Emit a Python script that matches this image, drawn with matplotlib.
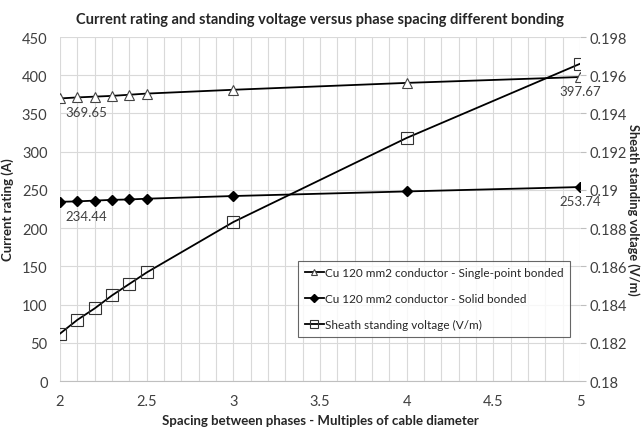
import matplotlib
matplotlib.use("Agg")
import matplotlib.pyplot as plt
from matplotlib.ticker import MultipleLocator, FormatStrFormatter

plt.rcParams['font.family'] = ['Lato', 'DejaVu Sans']

spacing = [2, 2.1, 2.2, 2.3, 2.4, 2.5, 3, 4, 5]
single_point = [369.65, 371, 372, 373, 374.5, 376, 381, 390, 397.67]
solid = [234.44, 235, 236, 237, 237.5, 238.5, 242, 248, 253.74]
sheath_v = [0.18248, 0.1832, 0.1838, 0.18448, 0.18508, 0.18568, 0.18832, 0.19272, 0.1966]
right_ticks = [0.18, 0.182, 0.184, 0.186, 0.188, 0.19, 0.192, 0.194, 0.196, 0.198]
right_labels = ['0.18', '0.182', '0.184', '0.186', '0.188', '0.19', '0.192', '0.194', '0.196', '0.198']

fig = plt.figure(figsize=(6.42, 4.35), dpi=100)
ax = fig.add_axes([0.0935, 0.1218, 0.81, 0.7908])
ax2 = ax.twinx()

l1, = ax.plot(spacing, single_point, color='black', lw=1.3, marker='^', ms=7,
              mfc='white', mec='#444444', mew=0.8,
              label='Cu 120 mm2 conductor - Single-point bonded')
l2, = ax.plot(spacing, solid, color='black', lw=1.3, marker='D', ms=5.5,
              mfc='black', mec='black', label='Cu 120 mm2 conductor - Solid bonded')
l3, = ax2.plot(spacing, sheath_v, color='black', lw=1.3, marker='s', ms=8,
               mfc='none', mec='#333333', mew=0.8, label='Sheath standing voltage (V/m)')

ax.set_xlim(2, 5)
ax.set_ylim(0, 450)
ax2.set_ylim(0.18, 0.198)
ax.xaxis.set_major_locator(MultipleLocator(0.5))
ax.xaxis.set_minor_locator(MultipleLocator(0.1))
ax.xaxis.set_major_formatter(FormatStrFormatter('%g'))
ax.yaxis.set_major_locator(MultipleLocator(50))
ax2.set_yticks(right_ticks)
ax2.set_yticklabels(right_labels)

ax.grid(True, which='both', axis='x', color='#d9d9d9', lw=0.8)
ax.grid(True, which='major', axis='y', color='#d9d9d9', lw=0.8)
ax.set_axisbelow(True)
for a in (ax, ax2):
    for s in a.spines.values():
        s.set_visible(False)
ax.spines['bottom'].set_visible(True)
ax.spines['bottom'].set_color('#bfbfbf')
ax.tick_params(axis='both', which='both', length=0, labelsize=10.5, colors='#404040', pad=9)
ax2.tick_params(axis='y', length=4, color='#bfbfbf', labelsize=10.5, labelcolor='#404040', pad=3)

ax.set_title('Current rating and standing voltage versus phase spacing different bonding',
             fontsize=10.5, fontweight='bold', color='#262626', pad=10)
ax.set_xlabel('Spacing between phases - Multiples of cable diameter', fontsize=9.5,
              fontweight='bold', color='#262626', labelpad=5)
ax.set_ylabel('Current rating (A)', fontsize=9.5, fontweight='bold', color='#262626', labelpad=6)
ax2.set_ylabel('Sheath standing voltage (V/m)', fontsize=9.2, fontweight='bold',
               color='#262626', rotation=270, va='center', ha='center')
ax2.yaxis.set_label_coords(1.103, 0.5)

for x, y in [(spacing[0], single_point[0]), (spacing[0], solid[0]),
             (spacing[-1], single_point[-1]), (spacing[-1], solid[-1])]:
    ax.annotate(f'{y:.2f}', (x, y), xytext=(4 if x == 2 else 0, -10), textcoords='offset points',
                ha='left' if x == 2 else 'center', fontsize=9.5, color='#404040',
                va='center')

leg = ax.legend(handles=[l1, l2, l3], loc='upper left', bbox_to_anchor=(0.458, 0.349),
                borderaxespad=0, fontsize=8.5, frameon=True, fancybox=False,
                edgecolor='#404040', handlelength=1.6, handletextpad=0.1,
                labelspacing=1.25, borderpad=0.55, markerscale=0.7)
leg.get_frame().set_linewidth(0.8)
for t in leg.get_texts():
    t.set_color('#262626')

fig.savefig('out.png', dpi=100)
